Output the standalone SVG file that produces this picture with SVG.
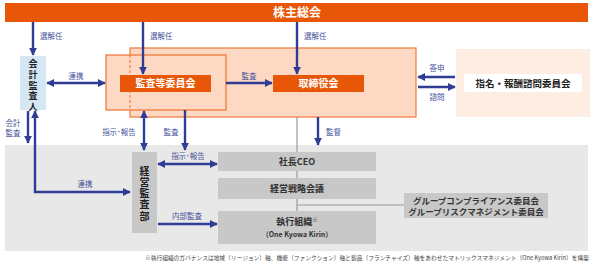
<svg xmlns="http://www.w3.org/2000/svg" width="593" height="266" viewBox="0 0 593 266">
<defs>
<style>
text{font-family:"Noto Sans CJK JP","Noto Sans",sans-serif;}
.lbl{font-size:7.5px;fill:#46529c;}
.wt{font-size:10px;font-weight:bold;fill:#fff;}
.dk{font-size:9px;font-weight:bold;fill:#333;}
.vt{writing-mode:vertical-rl;text-orientation:upright;font-weight:bold;fill:#222;}
.arr{stroke:#2f3d94;stroke-width:2.4;fill:none;}
.gbox{fill:#c8c8c8;}
</style>
<marker id="ah" viewBox="0 0 10 10" refX="9" refY="5" markerWidth="8" markerHeight="8" markerUnits="userSpaceOnUse" orient="auto-start-reverse">
<path d="M0,0 L10,5 L0,10 z" fill="#2f3d94"/>
</marker>
</defs>
<rect width="593" height="266" fill="#fff"/>
<rect x="5" y="145" width="583" height="106" fill="#e8e8e8"/>
<g id="lines" stroke="#9a9a9a" stroke-width="1.2" fill="none">
<path d="M297,117 V211"/>
<path d="M297,205 H404"/>
</g>
<g id="kabunushi">
<rect x="5" y="3" width="583" height="19" fill="#e85708"/>
<text x="297" y="17" text-anchor="middle" style="font-size:12px;font-weight:bold;fill:#fff">株主総会</text>
</g>
<g id="board-area">
<rect x="130" y="48" width="286" height="69" fill="#fdd9c4" stroke="#f07b3c" stroke-width="1.2"/>
</g>
<g id="audit-area">
<rect x="106" y="55" width="120" height="55" fill="#fdd9c4" stroke="#f07030" stroke-width="1.2"/>
<path d="M130,55 V110" stroke="#f07030" stroke-width="1" stroke-dasharray="3,2"/>
</g>
<g id="kansa">
<rect x="120" y="75" width="91" height="17" fill="#e85708"/>
<text x="165.5" y="87" text-anchor="middle" class="wt">監査等委員会</text>
</g>
<g id="torishimari">
<rect x="273" y="75" width="91" height="17" fill="#e85708"/>
<text x="318.5" y="87" text-anchor="middle" class="wt">取締役会</text>
</g>
<g id="shimei">
<rect x="456" y="49" width="134" height="68" fill="#fdede3"/>
<rect x="464" y="74" width="118" height="18" fill="#fff"/>
<text x="523" y="87" text-anchor="middle" style="font-size:9.5px;font-weight:bold;fill:#222">指名・報酬諮問委員会</text>
</g>
<g id="kaikei">
<rect x="20" y="56" width="26" height="54" fill="#d5e7f5"/>
<text x="33" y="59" class="vt" style="font-size:9px;letter-spacing:1.8px">会計監査人</text>
</g>
<g id="keiei-kansa">
<rect x="132" y="152" width="25" height="81" class="gbox"/>
<text x="144.5" y="166" class="vt" style="font-size:10px;letter-spacing:1.2px">経営監査部</text>
</g>
<g id="ceo">
<rect x="218" y="152" width="158" height="19" class="gbox"/>
<text x="297" y="165" text-anchor="middle" class="dk">社長CEO</text>
</g>
<g id="senryaku">
<rect x="218" y="178" width="158" height="21" class="gbox"/>
<text x="297" y="192" text-anchor="middle" class="dk">経営戦略会議</text>
</g>
<g id="shikko">
<rect x="218" y="211" width="158" height="33" class="gbox"/>
<text x="297" y="225" text-anchor="middle" class="dk">執行組織<tspan style="font-size:5.5px;font-weight:normal" dy="-3">※</tspan></text>
<text x="297" y="237" text-anchor="middle" style="font-size:7px;font-weight:bold;fill:#333">（One Kyowa Kirin）</text>
</g>
<g id="group">
<rect x="404" y="193" width="144" height="25" class="gbox"/>
<text x="476" y="204" text-anchor="middle" style="font-size:8.5px;font-weight:bold;fill:#333">グループコンプライアンス委員会</text>
<text x="476" y="215" text-anchor="middle" style="font-size:8.5px;font-weight:bold;fill:#333">グループリスクマネジメント委員会</text>
</g>
<g id="connectors">
<path class="arr" d="M33,22 V55" marker-end="url(#ah)"/>
<path class="arr" d="M143,22 V74" marker-end="url(#ah)"/>
<path class="arr" d="M297,22 V74" marker-end="url(#ah)"/>
<path class="arr" d="M47,83 H105" marker-start="url(#ah)" marker-end="url(#ah)"/>
<path class="arr" d="M226,83 H272" marker-end="url(#ah)"/>
<path class="arr" d="M455,77 H418" marker-end="url(#ah)"/>
<path class="arr" d="M418,87 H455" marker-end="url(#ah)"/>
<path class="arr" d="M28,111 V143" marker-end="url(#ah)"/>
<path class="arr" d="M35,111 V192 H130" marker-start="url(#ah)" marker-end="url(#ah)"/>
<path class="arr" d="M144,111 V150" marker-start="url(#ah)" marker-end="url(#ah)"/>
<path class="arr" d="M185,110 V150" marker-end="url(#ah)"/>
<path class="arr" d="M158,164 H217" marker-start="url(#ah)" marker-end="url(#ah)"/>
<path class="arr" d="M158,224 H217" marker-end="url(#ah)"/>
<path class="arr" d="M318,117 V145" marker-end="url(#ah)"/>
</g>
<g id="labels" class="lbl">
<text x="40" y="39" class="lbl">選解任</text>
<text x="150" y="39" class="lbl">選解任</text>
<text x="304" y="39" class="lbl">選解任</text>
<text x="76" y="79" text-anchor="middle" class="lbl">連携</text>
<text x="249" y="79" text-anchor="middle" class="lbl">監査</text>
<text x="437" y="71" text-anchor="middle" class="lbl">答申</text>
<text x="437" y="100" text-anchor="middle" class="lbl">諮問</text>
<text x="13" y="126" text-anchor="middle" class="lbl">会計</text>
<text x="13" y="136" text-anchor="middle" class="lbl">監査</text>
<text x="119" y="135" text-anchor="middle" class="lbl">指示･報告</text>
<text x="171" y="135" text-anchor="middle" class="lbl">監査</text>
<text x="326" y="135" class="lbl">監督</text>
<text x="188" y="159" text-anchor="middle" class="lbl">指示･報告</text>
<text x="85" y="187" text-anchor="middle" class="lbl">連携</text>
<text x="187" y="219" text-anchor="middle" class="lbl">内部監査</text>
</g>
<text x="145" y="260" textLength="444" lengthAdjust="spacingAndGlyphs" style="font-size:5.8px;fill:#444">※執行組織のガバナンスは地域（リージョン）軸、機能（ファンクション）軸と製品（フランチャイズ）軸をあわせたマトリックスマネジメント（One Kyowa Kirin）を構築</text>
</svg>
